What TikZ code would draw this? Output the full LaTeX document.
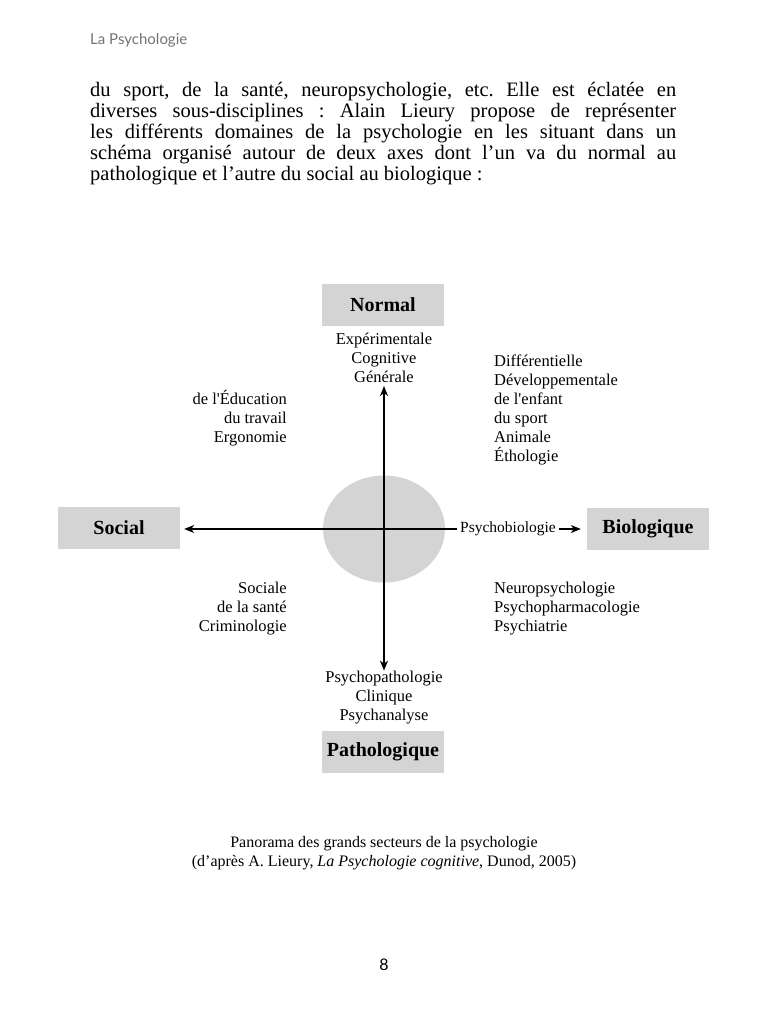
\documentclass[tikz,border=0pt]{standalone}
\usepackage{fontspec}
\setmainfont{Liberation Serif}
\newfontfamily\headfont{Lato}
\usetikzlibrary{arrows.meta,shapes.geometric}
\definecolor{polegray}{gray}{0.83}
\newcommand\tightlines{\lineskiplimit=-20pt\relax}
\frenchspacing

\begin{document}
\begin{tikzpicture}[x=1pt,y=-1pt,
    pole/.style={fill=polegray, minimum width=122pt, minimum height=42pt,
      font=\fontsize{20}{22}\selectfont\bfseries},
    field/.style={font={\fontsize{16.5}{19}\selectfont\tightlines}, inner sep=0pt},
    axis/.style={line width=1.1pt, >={Stealth[length=10pt,width=8pt,inset=3pt]}}
  ]
    \useasboundingbox[fill=white] (0,0) rectangle (768,1024);

    \node[anchor=base west, inner sep=0pt, text=black!55,
      font=\headfont\fontsize{15}{17}\selectfont] (header) at (90,45) {La Psychologie};

    \node[anchor=north west, inner sep=0pt, text width=586pt, align=justify,
      font={\fontsize{20.5}{21}\selectfont\tightlines}] (para) at (90,82)
      {du sport, de la santé, neuropsychologie, etc. Elle est éclatée en\linebreak
       diverses sous-disciplines : Alain Lieury propose de représenter\linebreak
       les différents domaines de la psychologie en les situant dans un\linebreak
       schéma organisé autour de deux axes dont l’un va du normal au\linebreak
       pathologique et l’autre du social au biologique :};

    \node[ellipse, fill=polegray, minimum width=122pt, minimum height=107pt] (core) at (384,529) {};

    \node[pole] (normal) at (383,305) {Normal};
    \node[pole] (social) at (119,528) {Social};
    \node[pole] (bio) at (648,529) {Biologique};
    \node[pole] (patho) at (383,752) {Pathologique};

    \node[field, anchor=north, align=center] (normlist) at (384,333)
      {Expérimentale\\Cognitive\\Générale};
    \node[field, anchor=south, align=center] (patholist) at (384,724)
      {Psychopathologie\\Clinique\\Psychanalyse};
    \node[field, anchor=north east, align=right] (edu) at (287,390)
      {de l\textquotesingle Éducation\\du travail\\Ergonomie};
    \node[field, anchor=north west, align=left] (diff) at (494,355)
      {Différentielle\\Développementale\\de l\textquotesingle enfant\\du sport\\Animale\\Éthologie};
    \node[field, anchor=north east, align=right] (soc) at (287,582)
      {Sociale\\de la santé\\Criminologie};
    \node[field, anchor=north west, align=left] (neuro) at (494,582)
      {Neuropsychologie\\Psychopharmacologie\\Psychiatrie};
    \node[font=\fontsize{15.5}{17}\selectfont, inner xsep=3pt] (psybio) at (508,529) {Psychobiologie};

    \draw[axis,<->, shorten <=3pt] (normlist.south) -- (patholist.north);
    \draw[axis,<-, shorten <=4pt] (social.east |- psybio.west) -- (psybio.west);
    \draw[axis,->, shorten >=6pt] (psybio.east) -- (bio.west |- psybio.east);

    \node[align=center, font=\fontsize{16}{18.5}\selectfont] (caption) at (384,853)
      {Panorama des grands secteurs de la psychologie\\
       (d’après A. Lieury, \textit{La Psychologie cognitive}, Dunod, 2005)};
    \node[font=\headfont\fontsize{16}{18}\selectfont] (folio) at (384,965) {8};
\end{tikzpicture}
\end{document}
